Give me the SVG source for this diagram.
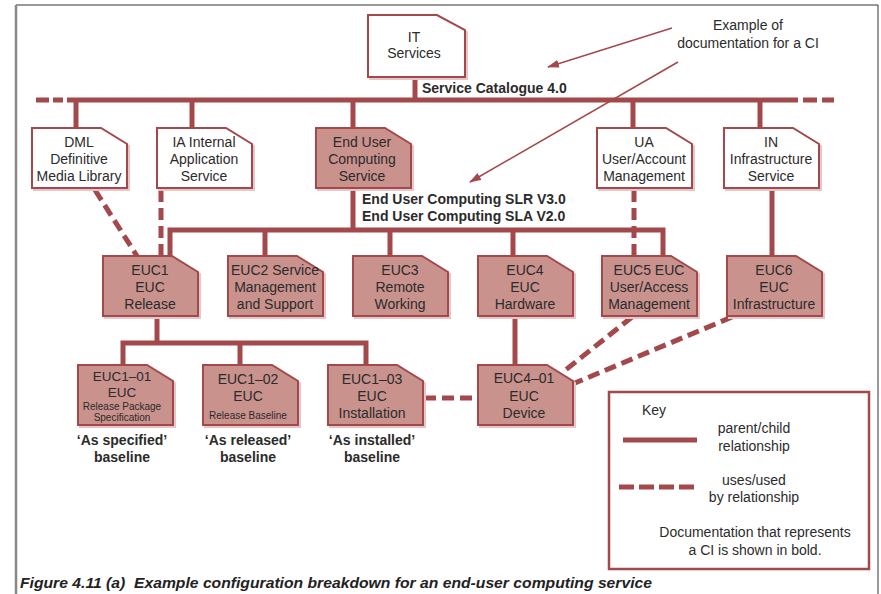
<svg xmlns="http://www.w3.org/2000/svg" width="881" height="594" viewBox="0 0 881 594">
  <style>
    text { font-family: "Liberation Sans", Arial, sans-serif; font-size: 14px; fill: #2b2b2b; text-anchor: middle; }
    .b { font-weight: bold; }
    .sm { font-size: 10px; }
    .l { text-anchor: start; }
    .shade { fill: none; stroke: #e6c6c6; stroke-width: 2; }
    .doc { fill: #ffffff; stroke: #a3494b; stroke-width: 2; }
    .ci { fill: #c9928d; stroke: #a3494b; stroke-width: 2; }
    .pc { fill: none; stroke: #a3494b; stroke-width: 5; stroke-linejoin: miter; }
    .uses { fill: none; stroke: #a3494b; stroke-width: 5; stroke-dasharray: 12 6; }
    .note { fill: none; stroke: #a3494b; stroke-width: 1.5; }
  </style>
  <defs>
    <path id="card" d="M0 0 H69 L95 16 V60 H0 Z"/>
    <marker id="head" viewBox="0 0 12 8" refX="11" refY="4" markerWidth="12" markerHeight="8" markerUnits="userSpaceOnUse" orient="auto">
      <path d="M0 0 L12 4 L0 8 Z" fill="#a3494b"/>
    </marker>
  </defs>

  <!-- page frame -->
  <line x1="16" y1="5" x2="878" y2="5" stroke="#333" stroke-width="1"/>
  <line x1="16" y1="5" x2="16" y2="594" stroke="#888" stroke-width="2.5"/>
  <line x1="878" y1="5" x2="878" y2="594" stroke="#333" stroke-width="1"/>

  <!-- connectors -->
  <g id="connectors">
    <!-- service catalogue bus -->
    <line class="pc" x1="67" y1="100" x2="798" y2="100"/>
    <path class="pc" d="M36 100 H49 M53 100 H63"/>
    <path class="pc" d="M803 100 H817 M822 100 H834"/>
    <line class="pc" x1="415" y1="77" x2="415" y2="100"/>
    <line class="pc" x1="76" y1="100" x2="76" y2="128"/>
    <line class="pc" x1="192" y1="100" x2="192" y2="128"/>
    <line class="pc" x1="353" y1="100" x2="353" y2="128"/>
    <line class="pc" x1="633" y1="100" x2="633" y2="128"/>
    <line class="pc" x1="760" y1="100" x2="760" y2="128"/>
    <!-- end user computing bus -->
    <line class="pc" x1="353" y1="188" x2="353" y2="230"/>
    <path class="pc" d="M170 256 V230 H663 V256"/>
    <line class="pc" x1="265" y1="230" x2="265" y2="256"/>
    <line class="pc" x1="390" y1="230" x2="390" y2="256"/>
    <line class="pc" x1="513" y1="230" x2="513" y2="256"/>
    <line class="pc" x1="772" y1="188" x2="772" y2="256"/>
    <!-- release bus -->
    <line class="pc" x1="157" y1="316" x2="157" y2="343"/>
    <path class="pc" d="M123 365 V343 H366 V365"/>
    <line class="pc" x1="240" y1="343" x2="240" y2="365"/>
    <line class="pc" x1="515" y1="316" x2="515" y2="365"/>
    <!-- uses / used by -->
    <line class="uses" x1="95" y1="190" x2="137" y2="256"/>
    <line class="uses" x1="161" y1="190" x2="161" y2="256"/>
    <line class="uses" x1="634" y1="190" x2="634" y2="256"/>
    <line class="uses" x1="424" y1="398" x2="478" y2="398"/>
    <line class="uses" x1="632" y1="317" x2="563" y2="372"/>
    <line class="uses" x1="732" y1="317" x2="575" y2="383"/>
    <!-- annotation pointers -->
    <line class="note" x1="672" y1="28" x2="548" y2="67" marker-end="url(#head)"/>
    <line class="note" x1="678" y1="62" x2="470" y2="182" marker-end="url(#head)"/>
  </g>

  <!-- bold document labels -->
  <text class="b l" x="422" y="93">Service Catalogue 4.0</text>
  <text class="b l" x="362" y="204">End User Computing SLR V3.0</text>
  <text class="b l" x="362" y="221">End User Computing SLA V2.0</text>

  <!-- annotation -->
  <g id="annotation">
    <text x="748" y="30">Example of</text>
    <text x="748" y="48">documentation for a CI</text>
  </g>

  <!-- top node -->
  <g id="it-services">
    <path class="shade" d="M370 17 H439 L467 32 V79 H370 Z"/>
    <path class="doc" d="M368 15 H437 L465 30 V77 H368 Z"/>
    <text x="414" y="42">IT</text>
    <text x="414" y="58">Services</text>
  </g>

  <!-- service row -->
  <g id="dml" transform="translate(32,128)">
    <use href="#card" class="shade" x="2" y="2"/>
    <use href="#card" class="doc"/>
    <text x="47" y="19">DML</text>
    <text x="47" y="36">Definitive</text>
    <text x="47" y="53">Media Library</text>
  </g>
  <g id="ia" transform="translate(157,128)">
    <use href="#card" class="shade" x="2" y="2"/>
    <use href="#card" class="doc"/>
    <text x="47" y="19">IA Internal</text>
    <text x="47" y="36">Application</text>
    <text x="47" y="53">Service</text>
  </g>
  <g id="euc-service" transform="translate(316,128)">
    <use href="#card" class="shade" x="2" y="2"/>
    <use href="#card" class="ci"/>
    <text x="46" y="19">End User</text>
    <text x="46" y="36">Computing</text>
    <text x="46" y="53">Service</text>
  </g>
  <g id="ua" transform="translate(597,128)">
    <use href="#card" class="shade" x="2" y="2"/>
    <use href="#card" class="doc"/>
    <text x="47" y="19">UA</text>
    <text x="47" y="36">User/Account</text>
    <text x="47" y="53">Management</text>
  </g>
  <g id="in" transform="translate(724,128)">
    <use href="#card" class="shade" x="2" y="2"/>
    <use href="#card" class="doc"/>
    <text x="47" y="19">IN</text>
    <text x="47" y="36">Infrastructure</text>
    <text x="47" y="53">Service</text>
  </g>

  <!-- EUC component row -->
  <g id="euc1" transform="translate(103,256)">
    <use href="#card" class="shade" x="2" y="2"/>
    <use href="#card" class="ci"/>
    <text x="47" y="19">EUC1</text>
    <text x="47" y="36">EUC</text>
    <text x="47" y="53">Release</text>
  </g>
  <g id="euc2" transform="translate(228,256)">
    <use href="#card" class="shade" x="2" y="2"/>
    <use href="#card" class="ci"/>
    <text x="47" y="19">EUC2 Service</text>
    <text x="47" y="36">Management</text>
    <text x="47" y="53">and Support</text>
  </g>
  <g id="euc3" transform="translate(353,256)">
    <use href="#card" class="shade" x="2" y="2"/>
    <use href="#card" class="ci"/>
    <text x="47" y="19">EUC3</text>
    <text x="47" y="36">Remote</text>
    <text x="47" y="53">Working</text>
  </g>
  <g id="euc4" transform="translate(478,256)">
    <use href="#card" class="shade" x="2" y="2"/>
    <use href="#card" class="ci"/>
    <text x="47" y="19">EUC4</text>
    <text x="47" y="36">EUC</text>
    <text x="47" y="53">Hardware</text>
  </g>
  <g id="euc5" transform="translate(602,256)">
    <use href="#card" class="shade" x="2" y="2"/>
    <use href="#card" class="ci"/>
    <text x="47" y="19">EUC5 EUC</text>
    <text x="47" y="36">User/Access</text>
    <text x="47" y="53">Management</text>
  </g>
  <g id="euc6" transform="translate(727,256)">
    <use href="#card" class="shade" x="2" y="2"/>
    <use href="#card" class="ci"/>
    <text x="47" y="19">EUC6</text>
    <text x="47" y="36">EUC</text>
    <text x="47" y="53">Infrastructure</text>
  </g>

  <!-- release and device row -->
  <g id="euc1-01" transform="translate(78,365)">
    <use href="#card" class="shade" x="2" y="2"/>
    <use href="#card" class="ci"/>
    <text x="44" y="16" style="font-size:13.5px">EUC1–01</text>
    <text x="44" y="32" style="font-size:13.5px">EUC</text>
    <text class="sm" x="44" y="45">Release Package</text>
    <text class="sm" x="44" y="56">Specification</text>
  </g>
  <g id="euc1-02" transform="translate(203,365)">
    <use href="#card" class="shade" x="2" y="2"/>
    <use href="#card" class="ci"/>
    <text x="45" y="19">EUC1–02</text>
    <text x="45" y="36">EUC</text>
    <text class="sm" x="45" y="54">Release Baseline</text>
  </g>
  <g id="euc1-03" transform="translate(328,365)">
    <use href="#card" class="shade" x="2" y="2"/>
    <use href="#card" class="ci"/>
    <text x="44" y="19">EUC1–03</text>
    <text x="44" y="36">EUC</text>
    <text x="44" y="53">Installation</text>
  </g>
  <g id="euc4-01" transform="translate(478,365)">
    <use href="#card" class="shade" x="2" y="2"/>
    <use href="#card" class="ci"/>
    <text x="46" y="18">EUC4–01</text>
    <text x="46" y="36">EUC</text>
    <text x="46" y="53">Device</text>
  </g>

  <!-- baseline captions -->
  <g id="baselines">
    <text class="b" x="122" y="445">‘As specified’</text>
    <text class="b" x="122" y="462">baseline</text>
    <text class="b" x="248" y="445">‘As released’</text>
    <text class="b" x="248" y="462">baseline</text>
    <text class="b" x="372" y="445">‘As installed’</text>
    <text class="b" x="372" y="462">baseline</text>
  </g>

  <!-- key -->
  <g id="key">
    <rect x="609" y="392" width="260" height="177" fill="#ffffff" stroke="#a3494b" stroke-width="2.5"/>
    <text class="l" x="642" y="415">Key</text>
    <line class="pc" x1="623" y1="440" x2="697" y2="440"/>
    <text x="754" y="433">parent/child</text>
    <text x="754" y="451">relationship</text>
    <line class="pc" x1="619" y1="487" x2="694" y2="487" stroke-dasharray="15 5"/>
    <text x="754" y="485">uses/used</text>
    <text x="754" y="502">by relationship</text>
    <text x="755" y="537">Documentation that represents</text>
    <text x="755" y="555">a CI is shown in bold.</text>
  </g>

  <!-- figure caption -->
  <text class="b l" x="20" y="588" xml:space="preserve" textLength="632" lengthAdjust="spacingAndGlyphs" style="font-style: italic; font-size: 15.5px; fill: #222;">Figure 4.11 (a)  Example configuration breakdown for an end-user computing service</text>
</svg>
